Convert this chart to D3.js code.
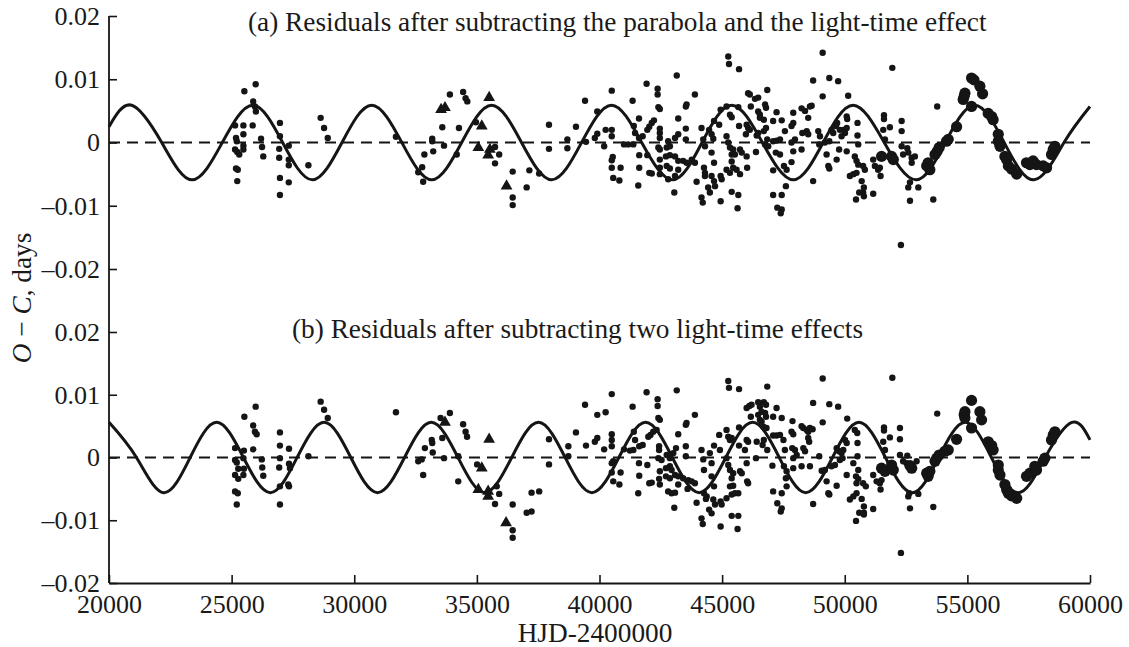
<!DOCTYPE html>
<html>
<head>
<meta charset="utf-8">
<script src="https://cdn.jsdelivr.net/npm/d3@7"></script>
<style>
  body { margin: 0; background: #fff; }
  text { font-family: "Liberation Serif", "Times New Roman", serif; fill: #1a1a1a; }
</style>
</head>
<body>
<script>
// ---- data (HJD-2400000, O-C in days) ----
const xTicks = [20000, 25000, 30000, 35000, 40000, 45000, 50000, 55000, 60000];
const yTicks = [-0.02, -0.01, 0, 0.01, 0.02];

// fitted curves, read at extrema / zero crossings
const curveA = [[20000,0.0025],[20925,0.0059],[22150,0],[23380,-0.0059],[24620,0],[25860,0.0059],[27080,0],[28290,-0.0059],[29500,0],[30710,0.0059],[31940,0],[33160,-0.0059],[34380,0],[35600,0.0059],[36820,0],[38050,-0.0059],[39270,0],[40490,0.0059],[41720,0],[42980,-0.0059],[44180,0],[45390,0.0059],[46640,0],[47900,-0.0059],[49120,0],[50340,0.0059],[51610,0],[52900,-0.0059],[54100,0],[55300,0.0059],[56500,0],[57720,-0.0059],[58940,0],[60000,0.0057]];
const curveB = [[20000,0.0056],[21120,0],[22230,-0.0056],[23310,0],[24390,0.0056],[25480,0],[26580,-0.0056],[27670,0],[28770,0.0056],[29860,0],[30950,-0.0056],[32050,0],[33140,0.0056],[34230,0],[35320,-0.0056],[36420,0],[37510,0.0056],[38600,0],[39690,-0.0056],[40790,0],[41880,0.0056],[42970,0],[44060,-0.0056],[45150,0],[46240,0.0056],[47330,0],[48410,-0.0056],[49500,0],[50580,0.0056],[51660,0],[52750,-0.0056],[53830,0],[54910,0.0056],[55980,0],[57080,-0.0056],[58170,0],[59260,0.0056],[60000,0.0028]];

// (a) visual timings
const dotsA = [[25520,0.0081],[25980,0.0092],[25880,0.0065],[25950,0.0057],[25990,0.0049],[25140,0.0027],[25480,0.0027],[25860,0.0027],[25180,0.0007],[25210,0.0002],[25480,0.0013],[26200,0.0006],[26970,0.0031],[26970,0.0010],[25140,-0.0011],[25230,-0.0015],[25310,-0.0019],[25480,-0.0005],[25480,-0.0011],[26240,-0.0007],[26290,-0.0022],[26940,-0.0010],[27330,-0.0005],[26940,-0.0024],[27330,-0.0027],[27330,-0.0036],[25180,-0.0041],[25250,-0.0043],[25230,-0.0061],[26970,-0.0056],[27330,-0.0063],[26970,-0.0083],[28130,-0.0036],[28630,0.0039],[28770,0.0023],[28920,0.0007],[31700,0.0009],[32610,-0.0047],[32770,-0.0039],[32810,-0.0062],[32860,-0.0019],[33180,0.0006],[33180,0.0002],[33220,-0.0014],[33590,0.0024],[33660,-0.0005],[33900,0.0076],[34440,0.0080],[34540,0.0070],[34610,0.0065],[34270,0.0023],[34180,-0.0019],[34960,0.0032],[35740,-0.0007],[35910,-0.0019],[35740,-0.0033],[36460,-0.0046],[36460,-0.0087],[36460,-0.0099],[37030,-0.0071],[37140,-0.0044],[37540,-0.0049],[37940,0.0028],[37940,-0.0010],
[38690,0.0005],[38690,-0.0009],[39040,0.0025],[39410,0.0066],[39450,0.0001],[39810,0.0007],[39910,0.0014],[39910,0.0049],[40190,-0.0006],[40250,0.0020],[40500,0.0082],[40500,0.0020],[40500,0.0010],[40540,-0.0023],[40500,-0.0028],[40500,-0.0040],[40560,-0.0056],[40810,-0.0060],[40860,-0.0040],[41000,-0.0003],[41170,-0.0003],[41380,-0.0003],[41350,0.0066],[41400,0.0026],[41450,0.0015],[41610,0.0038],[41610,0.0007],[41760,0.0010],[41620,-0.0020],[41620,-0.0040],[41580,-0.0068],[41920,0.0093],[41950,0.0020],[42030,0.0025],[42130,0.0031],[42220,0.0035],[41950,-0.0020],[42030,-0.0048],[42130,-0.0049],[42370,0.0085],[42370,0.0076],[42400,0.0056],[42460,0.0053],[42460,0.0022],[42460,0.0015],[42460,0.0007],[42400,-0.0008],[42460,-0.0011],[42460,-0.0027],[42460,-0.0040],[42460,-0.0050],[42800,0.0002],[42740,-0.0008],[42870,-0.0006],[42710,-0.0022],[42870,-0.0020],[42740,-0.0037],[42870,-0.0041],[42800,-0.0058],[43080,-0.0053],[43050,-0.0079],[43150,0.0106],[43080,0.0007],[43210,0.0013],[43210,0.0038],[43080,-0.0022],[43210,-0.0029],[43210,-0.0043],[43520,0.0022],[43520,0.0057],[43550,0.0060],[43520,0.0005],[43410,-0.0029],[43550,-0.0032],[43760,-0.0027],[43890,-0.0032],[43890,0.0076],[43960,-0.0062],[44160,0.0023],[44230,0.0005],[44300,-0.0006],[44160,-0.0087],[44210,-0.0095],[44260,-0.0040],[44300,-0.0048],[44300,-0.0053],[44470,0.0020],[44570,0.0013],[44640,0.0006],[44570,-0.0016],[44430,-0.0071],[44500,-0.0079],[44570,-0.0053],[44670,-0.0061],[44710,-0.0069],[44670,-0.0032],[44670,0.0034],[44880,0.0028],[44940,0.0052],[44940,-0.0053],[44980,-0.0058],[44940,-0.0093],
[45250,0.0136],[45280,0.0124],[45180,0.0057],[45320,0.0044],[45390,0.0040],[45180,0.0010],[45250,0.0000],[45320,-0.0008],[45450,-0.0011],[45390,-0.0019],[45520,-0.0019],[45180,-0.0043],[45320,-0.0048],[45450,-0.0040],[45590,-0.0043],[45730,-0.0050],[45390,-0.0030],[45390,-0.0078],[45660,-0.0083],[45630,-0.0104],[45690,0.0116],[45660,0.0056],[45690,0.0026],[45730,-0.0011],[45800,-0.0016],[45970,0.0013],[46000,-0.0022],[46020,-0.0040],[46000,0.0028],[46060,0.0023],[46130,0.0020],[46060,0.0078],[46130,0.0076],[46170,0.0057],[46340,0.0069],[46470,0.0071],[46380,-0.0015],[46410,0.0011],[46470,0.0015],[46470,0.0049],[46540,0.0044],[46540,0.0039],[46700,0.0036],[46790,0.0023],[46700,0.0018],[46750,0.0060],[46790,0.0055],[46840,0.0083],[46840,0.0005],[46750,-0.0003],[46880,-0.0006],[47080,0.0034],[47080,0.0002],[47220,0.0003],[47360,0.0005],[47080,-0.0044],[47080,-0.0083],[47430,-0.0083],[47220,0.0048],[47190,-0.0016],[47360,-0.0019],[47250,-0.0103],[47430,-0.0106],[47390,-0.0112],[47430,0.0035],[47560,0.0018],[47520,-0.0037],[47630,-0.0043],[47600,-0.0069],[47830,0.0026],[47900,0.0031],[47900,0.0047],[47830,0.0000],[47900,-0.0014],[47830,-0.0031],[47970,0.0005],[48240,0.0054],[48380,0.0050],[48510,0.0039],[48580,0.0057],[48650,0.0058],[48240,-0.0011],[48270,0.0015],[48450,0.0018],[48510,0.0013],[48710,0.0098],[48710,-0.0061],[48920,0.0018],[48990,0.0010],[48960,-0.0003],[49100,0.0142],[49100,0.0073],[49260,-0.0019],[49190,0.0000],[49370,0.0002],[49370,0.0102],[49330,-0.0037],[49370,-0.0041],[49460,0.0020],[49530,0.0015],[49640,0.0026],[49690,0.0031],[49670,-0.0027],[49730,0.0097],[49770,-0.0011],[49800,0.0020],[49870,0.0010],[49940,0.0020],[50010,0.0015],[50080,0.0023],[50080,0.0041],[50100,0.0037],[50080,-0.0014],[50140,0.0074],[50210,-0.0053],[50350,-0.0050],[50480,-0.0048],[50410,-0.0022],[50480,-0.0029],[50550,-0.0035],[50460,-0.0090],[50520,0.0031],[50520,0.0011],[50550,-0.0003],[50590,-0.0079],[50750,-0.0079],[50690,-0.0061],[50750,-0.0037],[50820,-0.0043],[50780,-0.0071],[50780,-0.0085],[51160,-0.0081],[51160,-0.0027],[51230,-0.0037],[51360,-0.0043],[51430,-0.0040],[51460,-0.0053],[51600,0.0043],[51600,0.0037],[51570,0.0020],[51640,0.0005],[51840,0.0024],[51940,0.0118],
[52320,0.0034],[52320,0.0018],[52320,-0.0006],[52380,-0.0019],[52590,-0.0016],[52730,-0.0024],[52860,-0.0022],[52730,-0.0032],[52550,-0.0009],[52660,-0.0063],[52590,-0.0071],[53000,-0.0071],[52660,-0.0092],[53610,-0.0090],[53770,0.0057],[52290,-0.0162]];
// (a) modern timings (large dots)
const bigA = [[51500,-0.0022],[51910,-0.0022],[51980,-0.0027],[53340,-0.0037],[53400,-0.0032],[53470,-0.0043],[53680,-0.0019],[53770,-0.0014],[53850,-0.0008],[54150,0.0002],[54220,0.0005],[54560,0.0025],[54830,0.0068],[54900,0.0078],[54870,0.0073],[55170,0.0057],[55170,0.0102],[55270,0.0099],[55510,0.0089],[55620,0.0077],[55850,0.0046],[55990,0.0041],[56050,0.0036],[56260,0.0013],[56260,0.0002],[56330,-0.0006],[56530,-0.0022],[56600,-0.0027],[56670,-0.0037],[56800,-0.0042],[57010,-0.0050],[57410,-0.0032],[57550,-0.0035],[57680,-0.0029],[57820,-0.0035],[58090,-0.0037],[58230,-0.0040],[58430,-0.0019],[58500,-0.0011],[58570,-0.0006]];
// (a) photographic timings (triangles)
const triA = [[33540,0.0052],[33700,0.0055],[35500,0.0071],[35200,0.0026],[35060,-0.0008],[35530,-0.0011],[35460,-0.0020],[36210,-0.0069]];

// (b) visual timings
const dotsB = [[25520,0.0065],[25980,0.0081],[25880,0.0051],[25950,0.0041],[26020,0.0037],[25140,0.0015],[25500,0.0011],[25880,0.0013],[25140,-0.0004],[25210,-0.0008],[25480,-0.0001],[26230,-0.0003],[25270,-0.0018],[25500,-0.0018],[25140,-0.0028],[25270,-0.0034],[25480,-0.0028],[26250,-0.0016],[26290,-0.0029],[25140,-0.0054],[25250,-0.0057],[25210,-0.0075],[26970,0.0040],[26970,0.0019],[27340,0.0014],[26970,-0.0001],[27340,-0.0010],[27380,-0.0017],[26940,-0.0016],[26970,-0.0046],[27310,-0.0043],[27340,-0.0046],[26970,-0.0075],[28130,0.0002],[28630,0.0089],[28770,0.0076],[28920,0.0063],[31700,0.0072],[32610,-0.0006],[32750,-0.0003],[32810,-0.0028],[32880,0.0015],[33160,0.0028],[33180,0.0023],[33200,0.0008],[33520,0.0063],[33900,0.0071],[33590,0.0031],[33660,-0.0001],[34240,0.0002],[34240,-0.0038],[34440,0.0053],[34540,0.0041],[34600,0.0033],[35010,-0.0011],[35810,-0.0046],[35910,-0.0058],[35740,-0.0074],[36460,-0.0075],[36460,-0.0116],[36460,-0.0128],[37030,-0.0088],[37230,-0.0086],[37230,-0.0056],[37540,-0.0054],[37940,0.0029],[37940,-0.0011],[38730,0.0018],[38730,0.0002],
[39040,0.0040],[39410,0.0084],[39450,0.0019],[39810,0.0025],[39910,0.0031],[39910,0.0068],[40250,0.0072],[40190,0.0013],[40500,0.0101],[40500,0.0037],[40500,0.0028],[40500,0.0018],[40500,-0.0009],[40560,-0.0006],[40500,-0.0024],[40560,-0.0038],[40810,-0.0043],[40860,-0.0024],[41000,0.0013],[41240,0.0011],[41380,0.0012],[41350,0.0081],[41400,0.0041],[41450,0.0028],[41610,-0.0009],[41620,-0.0029],[41580,-0.0057],[41620,0.0018],[41760,0.0020],[41920,0.0104],[41950,-0.0012],[41990,0.0033],[42080,0.0036],[42190,0.0041],[42330,0.0044],[42030,-0.0041],[42130,-0.0040],[42370,0.0093],[42370,0.0082],[42400,0.0063],[42460,0.0060],[42430,0.0018],[42430,0.0012],[42400,-0.0001],[42530,-0.0004],[42460,-0.0022],[42430,-0.0034],[42460,-0.0043],[42740,0.0004],[42870,-0.0001],[43010,0.0007],[42710,-0.0017],[42870,-0.0014],[42940,-0.0020],[42710,-0.0030],[42870,-0.0033],[43080,-0.0028],[42800,-0.0054],[42940,-0.0057],[43080,-0.0056],[43050,-0.0080],[43150,0.0107],[43210,0.0037],[43120,0.0015],[43210,-0.0030],[43210,-0.0043],[43520,0.0018],[43520,0.0052],[43550,0.0055],[43520,0.0002],[43410,-0.0033],[43620,-0.0036],[43760,-0.0038],[43890,-0.0041],[43590,-0.0050],[43890,0.0068],[43960,-0.0072],[44160,0.0012],[44230,-0.0003],[44260,-0.0020],[44160,-0.0097],[44210,-0.0106],[44260,-0.0057],[44370,-0.0062],[44340,-0.0066],[44500,0.0007],[44570,-0.0009],[44570,-0.0030],[44470,-0.0083],[44570,-0.0089],[44640,-0.0067],[44710,-0.0075],[44670,-0.0046],[44670,0.0019],[44880,0.0036],[44910,0.0012],[44940,-0.0070],[44980,-0.0075],[44940,-0.0110],
[45180,0.0044],[45250,0.0033],[45320,0.0028],[45390,0.0031],[45250,0.0122],[45280,0.0111],[45180,-0.0001],[45250,-0.0012],[45320,-0.0020],[45450,-0.0025],[45390,-0.0033],[45320,-0.0046],[45450,-0.0045],[45390,-0.0059],[45520,-0.0057],[45180,-0.0065],[45660,-0.0057],[45390,-0.0093],[45660,-0.0093],[45630,-0.0114],[45690,0.0109],[45690,0.0048],[45690,0.0019],[45730,-0.0022],[45800,-0.0025],[45930,0.0012],[46000,-0.0009],[46020,-0.0038],[46060,-0.0041],[46000,0.0028],[46060,0.0025],[46000,0.0079],[46110,0.0082],[46200,0.0084],[46170,0.0065],[46410,0.0025],[46380,-0.0001],[46470,0.0088],[46540,0.0081],[46610,0.0073],[46470,0.0068],[46540,0.0060],[46610,0.0057],[46700,0.0088],[46790,0.0084],[46750,0.0071],[46790,0.0065],[46680,0.0049],[46810,0.0047],[46700,0.0028],[46650,0.0020],[46840,0.0113],[46840,0.0012],[47080,0.0035],[47220,0.0035],[47360,0.0036],[47080,0.0065],[47220,0.0079],[47050,-0.0013],[47080,-0.0054],[47430,-0.0057],[47250,-0.0073],[47430,-0.0081],[47390,-0.0086],[47430,0.0063],[47500,0.0028],[47560,0.0012],[47520,-0.0014],[47630,-0.0022],[47600,-0.0033],[47630,-0.0046],[47830,0.0041],[47900,0.0037],[47870,0.0058],[47860,0.0015],[47900,-0.0001],[47900,-0.0017],[47970,0.0012],[48040,0.0004],[48240,0.0050],[48310,0.0047],[48450,0.0044],[48510,0.0041],[48580,0.0047],[48690,0.0045],[48310,0.0015],[48380,0.0010],[48240,-0.0014],[48580,-0.0014],[48510,0.0031],[48550,0.0025],[48710,0.0087],[48710,-0.0074],[48960,0.0002],[49060,-0.0021],[49190,-0.0020],[49100,0.0126],[49100,0.0056],[49260,-0.0038],[49370,0.0085],[49370,-0.0059],[49330,-0.0057],[49460,-0.0014],[49600,-0.0012],[49670,0.0015],[49770,0.0010],[49870,0.0007],[49940,0.0012],[49670,-0.0045],[49730,0.0081],[49800,-0.0004],[49910,-0.0001],[50010,0.0028],[50080,0.0023],[50080,-0.0028],[50100,0.0062],[50210,-0.0067],[50350,-0.0062],[50480,-0.0057],[50350,-0.0009],[50410,0.0044],[50510,0.0039],[50520,0.0023],[50520,0.0002],[50460,-0.0030],[50550,-0.0034],[50480,-0.0041],[50460,-0.0101],[50550,-0.0020],[50590,-0.0088],[50780,-0.0088],[50690,-0.0066],[50750,-0.0041],[50860,-0.0046],[50780,-0.0078],[50780,-0.0091],[51160,-0.0082],[51160,-0.0028],[51300,-0.0038],[51430,-0.0041],[51500,-0.0036],[51460,-0.0051],[51600,0.0048],[51600,0.0043],[51570,0.0025],[51640,0.0012],[51840,0.0032],[51940,0.0127],[52250,0.0047],[52250,0.0029],[52250,0.0004],[52290,-0.0152],[52590,-0.0062],[52630,-0.0057],[52660,-0.0081],
[52380,-0.0006],[52520,-0.0009],[52930,-0.0006],[52550,0.0003],[53000,-0.0058],[53610,-0.0079],[53770,0.0070]];
const bigB = [[51500,-0.0017],[51640,-0.0022],[51910,-0.0012],[51980,-0.0020],[52660,-0.0013],[52730,-0.0017],[53340,-0.0025],[53400,-0.0030],[53470,-0.0022],[53680,-0.0006],[53750,-0.0001],[53850,0.0004],[54080,0.0010],[54220,0.0012],[54560,0.0029],[54900,0.0073],[54870,0.0068],[54900,0.0063],[55170,0.0091],[55170,0.0047],[55510,0.0073],[55580,0.0060],[55850,0.0025],[55990,0.0019],[56050,0.0012],[56260,-0.0012],[56260,-0.0020],[56330,-0.0028],[56530,-0.0043],[56600,-0.0051],[56670,-0.0057],[56800,-0.0061],[57010,-0.0065],[57410,-0.0030],[57550,-0.0025],[57750,-0.0014],[57820,-0.0020],[58090,-0.0006],[58160,-0.0001],[58430,0.0028],[58500,0.0036],[58570,0.0041]];
const triB = [[33700,0.0056],[35500,0.0029],[35200,-0.0017],[35060,-0.0051],[35460,-0.0054],[35460,-0.0062],[36190,-0.0104]];

const titleA = '(a) Residuals after subtracting the parabola and the light-time effect';
const titleB = '(b) Residuals after subtracting two light-time effects';

// ---- layout ----
const width = 1129, height = 647;
const ink = '#151515';
const tickFont = 26;
const labelFont = 27.3;

const svg = d3.select('body').append('svg')
  .attr('width', width)
  .attr('height', height);

const x = d3.scaleLinear().domain([20000, 60000]).range([109, 1090]);
const yA = d3.scaleLinear().domain([-0.02, 0.02]).range([269, 16]);
const yB = d3.scaleLinear().domain([-0.02, 0.02]).range([583, 332]);

const fmt = (d) => d === 0 ? '0' : (d < 0 ? '\u2013' : '') + Math.abs(d).toFixed(2);

// one panel = dashed zero line + fitted curve + points
function panel(y, curve, dots, big, tri) {
  const g = svg.append('g');

  g.append('line')
    .attr('x1', x(20000)).attr('x2', x(60000))
    .attr('y1', y(0)).attr('y2', y(0))
    .attr('stroke', ink)
    .attr('stroke-width', 2.2)
    .attr('stroke-dasharray', '11,7');

  const line = d3.line()
    .x((d) => x(d[0]))
    .y((d) => y(d[1]))
    .curve(d3.curveNatural);

  g.append('path')
    .datum(curve)
    .attr('d', line)
    .attr('fill', 'none')
    .attr('stroke', ink)
    .attr('stroke-width', 3);

  g.selectAll(null)
    .data(dots)
    .join('circle')
    .attr('cx', (d) => x(d[0]))
    .attr('cy', (d) => y(d[1]))
    .attr('r', 3.2)
    .attr('fill', ink);

  g.selectAll(null)
    .data(big)
    .join('circle')
    .attr('cx', (d) => x(d[0]))
    .attr('cy', (d) => y(d[1]))
    .attr('r', 5.6)
    .attr('fill', ink);

  g.selectAll(null)
    .data(tri)
    .join('path')
    .attr('transform', (d) => `translate(${x(d[0])},${y(d[1])})`)
    .attr('d', d3.symbol(d3.symbolTriangle).size(60))
    .attr('fill', ink);

  // y axis ticks (inside) and labels
  const ax = svg.append('g')
    .attr('transform', `translate(${x(20000)},0)`)
    .call(d3.axisLeft(y).tickValues(yTicks).tickFormat(fmt)
      .tickSizeInner(-8).tickSizeOuter(0).tickPadding(9));
  ax.select('.domain').remove();
  ax.selectAll('line').attr('stroke', ink).attr('stroke-width', 1.6);
  ax.selectAll('text')
    .attr('font-family', '"Liberation Serif", serif')
    .attr('font-size', tickFont)
    .attr('fill', ink);
}

panel(yA, curveA, dotsA, bigA, triA);
panel(yB, curveB, dotsB, bigB, triB);

// continuous left spine
svg.append('line')
  .attr('x1', x(20000)).attr('x2', x(20000))
  .attr('y1', yA(0.02)).attr('y2', yB(-0.02))
  .attr('stroke', ink)
  .attr('stroke-width', 1.8);

// bottom axis
const gx = svg.append('g')
  .attr('transform', `translate(0,${yB(-0.02)})`)
  .call(d3.axisBottom(x).tickValues(xTicks).tickFormat(d3.format('d'))
    .tickSizeInner(-8).tickSizeOuter(0).tickPadding(12));
gx.select('.domain').attr('stroke', ink).attr('stroke-width', 1.8);
gx.selectAll('line').attr('stroke', ink).attr('stroke-width', 1.6);
gx.selectAll('text')
  .attr('font-family', '"Liberation Serif", serif')
  .attr('font-size', tickFont)
  .attr('fill', ink);

// axis titles
svg.append('text')
  .attr('x', 595)
  .attr('y', 642)
  .attr('text-anchor', 'middle')
  .attr('font-size', labelFont)
  .text('HJD-2400000');

const yl = svg.append('text')
  .attr('transform', 'translate(31,298) rotate(-90)')
  .attr('text-anchor', 'middle')
  .attr('font-size', labelFont);
yl.append('tspan').attr('font-style', 'italic').text('O');
yl.append('tspan').text(' \u2212 ');
yl.append('tspan').attr('font-style', 'italic').text('C');
yl.append('tspan').text(', days');

// panel titles
svg.append('text')
  .attr('x', 248)
  .attr('y', 31)
  .attr('font-size', labelFont)
  .text(titleA);

svg.append('text')
  .attr('x', 292)
  .attr('y', 338)
  .attr('font-size', labelFont)
  .text(titleB);
</script>
</body>
</html>
